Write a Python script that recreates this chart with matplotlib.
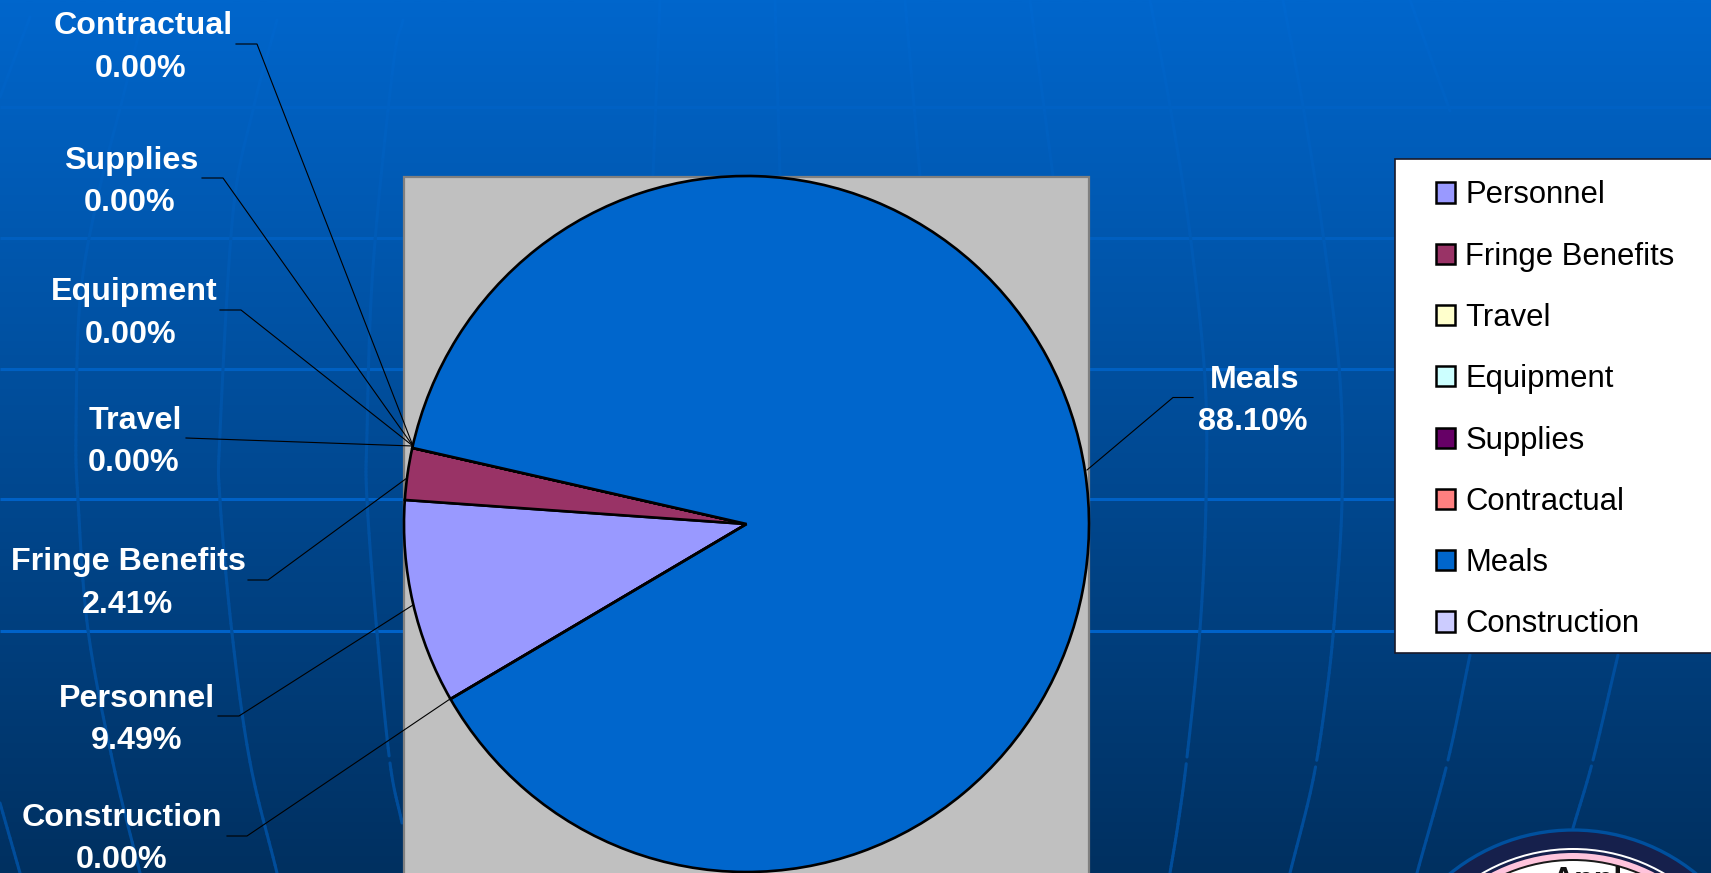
import numpy as np
import matplotlib
matplotlib.use("Agg")
import matplotlib.pyplot as plt
from matplotlib.collections import LineCollection
from matplotlib.patches import Rectangle, Circle
from matplotlib.colors import LinearSegmentedColormap, to_rgb

categories = ["Personnel", "Fringe Benefits", "Travel", "Equipment",
              "Supplies", "Contractual", "Meals", "Construction"]
shares = [9.49, 2.41, 0.00, 0.00, 0.00, 0.00, 88.10, 0.00]
colors = ["#9999FF", "#993366", "#FFFFCC", "#CCFFFF",
          "#660066", "#FF8080", "#0066CC", "#CCCCFF"]
pct_labels = ["9.49%", "2.41%", "0.00%", "0.00%", "0.00%", "0.00%", "88.10%", "0.00%"]

W, H = 1711, 873
plt.rcParams["font.family"] = ["Liberation Sans", "DejaVu Sans"]
fig = plt.figure(figsize=(W / 100, H / 100), dpi=100)

# Background in pixel coordinates
bg = fig.add_axes([0, 0, 1, 1])
bg.set_xlim(0, W)
bg.set_ylim(H, 0)
bg.axis("off")
TOP, BOT = np.array(to_rgb("#0066CC")), np.array(to_rgb("#003060"))
cmap = LinearSegmentedColormap.from_list("slide", [TOP, BOT])
bg.imshow(np.linspace(0, 1, 512)[:, None], cmap=cmap, aspect="auto",
          extent=[0, W, H, 0], zorder=0)

for yy, col in [(106.5, "#0061C4"), (237.5, "#005FC0"), (368.5, "#0060C2"),
                (499, "#0061C6"), (630.5, "#0062C8")]:
    bg.plot([0, W], [yy, yy], color=col, lw=2.2, zorder=1, solid_capstyle="butt")

meridians = [
    [(30, 17), (0, 97)],
    [(143, 17), (123, 97), (97, 200), (80, 300), (76, 433), (78, 500), (88, 630), (113, 763), (140, 873)],
    [(277, 20), (253, 110), (233, 213), (220, 433), (220, 500), (232, 633), (250, 762), (277, 873)],
    [(403, 20), (393, 67), (373, 267), (367, 433), (367, 500), (377, 633), (390, 763), (402, 823)],
    [(660, 0), (653, 176)],
    [(775, 0), (780, 176)],
    [(905, 0), (920, 176)],
    [(1030, 0), (1053, 176)],
    [(1150, 0), (1170, 106), (1190, 234), (1205, 379), (1206, 501), (1200, 629), (1187, 757), (1178, 824), (1170, 873)],
    [(1283, 0), (1303, 106), (1323, 234), (1340, 379), (1342, 501), (1335, 612), (1327, 690), (1313, 780), (1290, 873)],
    [(1410, 0), (1450, 111)],
    [(1470, 655), (1448, 760), (1417, 873)],
    [(1618, 655), (1593, 760), (1573, 828)],
    [(0, 803), (20, 873)],
]


def smooth(pts, n=14):
    p = np.array(pts, float)
    q = np.vstack([2 * p[0] - p[1], p, 2 * p[-1] - p[-2]])
    out = []
    for i in range(1, len(q) - 2):
        t = np.linspace(0, 1, n, endpoint=False)[:, None]
        a, b, c, d = q[i - 1], q[i], q[i + 1], q[i + 2]
        out.append(0.5 * (2 * b + (c - a) * t + (2 * a - 5 * b + 4 * c - d) * t ** 2
                          + (3 * b - a - 3 * c + d) * t ** 3))
    out.append(p[-1:])
    return np.vstack(out)


for pts in meridians:
    p = smooth(pts)
    segs, cols = [], []
    for s0, s1 in zip(p[:-1], p[1:]):
        ym = (s0[1] + s1[1]) / 2
        if 759 < ym < 765:
            continue
        f = ym / H
        c = TOP + (BOT - TOP) * f + np.array([0, 0.005, 0.012]) + np.array([0, 0.11, 0.22]) * f ** 2
        segs.append([s0, s1])
        cols.append(np.clip(c, 0, 1))
    bg.add_collection(LineCollection(segs, colors=cols, linewidths=2.2, zorder=1, capstyle="round"))

# Logo fragment
for r, yc, fc, ec, lw in [(195, 1025, "#16204C", "#00509E", 2.4), (182, 1030, "#FFFFFF", "none", 0),
                          (180, 1030, "#16204C", "none", 0), (177, 1030, "#FFC4DC", "none", 0),
                          (171, 1030, "#1A1A1A", "none", 0), (169, 1030, "#FFFFFF", "none", 0)]:
    bg.add_patch(Circle((1573, yc), r, fc=fc, ec=ec, lw=lw, zorder=2))
bg.text(1587, 889, "Appl", fontsize=23, fontweight="bold", color="#111111",
        ha="center", va="baseline", zorder=3)

# Plot area
bg.add_patch(Rectangle((404, 176.5), 685, 720, fc="#C0C0C0", ec="#808080", lw=1.6, zorder=3))

# Legend box
bg.add_patch(Rectangle((1395, 158.5), 340, 494, fc="white", ec="#1A1A2A", lw=1.2, zorder=3))

# Pie
cx, cy, rx, ry = 746.5, 524, 342.5, 348
pie_ax = fig.add_axes([(cx - rx) / W, 1 - (cy + ry) / H, 2 * rx / W, 2 * ry / H], zorder=5)
wedges, _ = pie_ax.pie(shares, colors=colors, startangle=210.2, counterclock=False,
                       radius=1, wedgeprops=dict(edgecolor="black", linewidth=1.9))
pie_ax.set_aspect("auto")
pie_ax.set_xlim(-1, 1)
pie_ax.set_ylim(-1, 1)
for w in wedges:
    w.set_clip_on(False)
pie_ax.patch.set_visible(False)

# Legend
leg = fig.legend(wedges, categories, loc="upper left", frameon=False,
                 bbox_to_anchor=(1436 / W, 1 - 180.4 / H), borderaxespad=0, borderpad=0,
                 fontsize=22.3, labelspacing=1.01, handlelength=0.62, handleheight=0.62,
                 handletextpad=0.33, labelcolor="black")
leg.set_zorder(6)
for h, c in zip(leg.legend_handles, colors):
    h.set_facecolor(c)
    h.set_edgecolor("black")
    h.set_linewidth(1.8)

# Data labels and leader lines
top = fig.add_axes([0, 0, 1, 1], zorder=7)
top.set_xlim(0, W)
top.set_ylim(H, 0)
top.axis("off")
top.patch.set_visible(False)

name_anchor = {
    "Contractual": (143.5, 34), "Supplies": (131, 169), "Equipment": (134, 300),
    "Travel": (135.5, 429), "Fringe Benefits": (128.7, 570), "Personnel": (137, 707),
    "Construction": (122, 826), "Meals": (1254.5, 388),
}
pct_anchor = {
    "Contractual": (141, 77), "Supplies": (129.5, 211), "Equipment": (131, 343),
    "Travel": (133.7, 471), "Fringe Benefits": (128, 613), "Personnel": (137, 749),
    "Construction": (122, 868), "Meals": (1252.5, 430),
}
leaders = {
    "Contractual": [(236, 44), (257, 44), (413, 446)],
    "Supplies": [(202, 178), (223, 178), (413, 446)],
    "Equipment": [(220, 310), (241, 310), (413, 446)],
    "Travel": [(186, 438), (413, 446)],
    "Fringe Benefits": [(248, 580), (268, 580), (407, 478)],
    "Personnel": [(218, 716), (239, 716), (413, 605)],
    "Construction": [(227, 836), (247, 836), (450, 699)],
    "Meals": [(1193, 397.5), (1173, 397.5), (1087, 470)],
}
for name, pct in zip(categories, pct_labels):
    top.text(*name_anchor[name], name, color="white", fontweight="bold", fontsize=23.2,
             ha="center", va="baseline")
    top.text(*pct_anchor[name], pct, color="white", fontweight="bold", fontsize=23.2,
             ha="center", va="baseline")
    xs, ys = zip(*leaders[name])
    top.plot(xs, ys, color="black", lw=0.8)

fig.savefig("out.png", dpi=100)
